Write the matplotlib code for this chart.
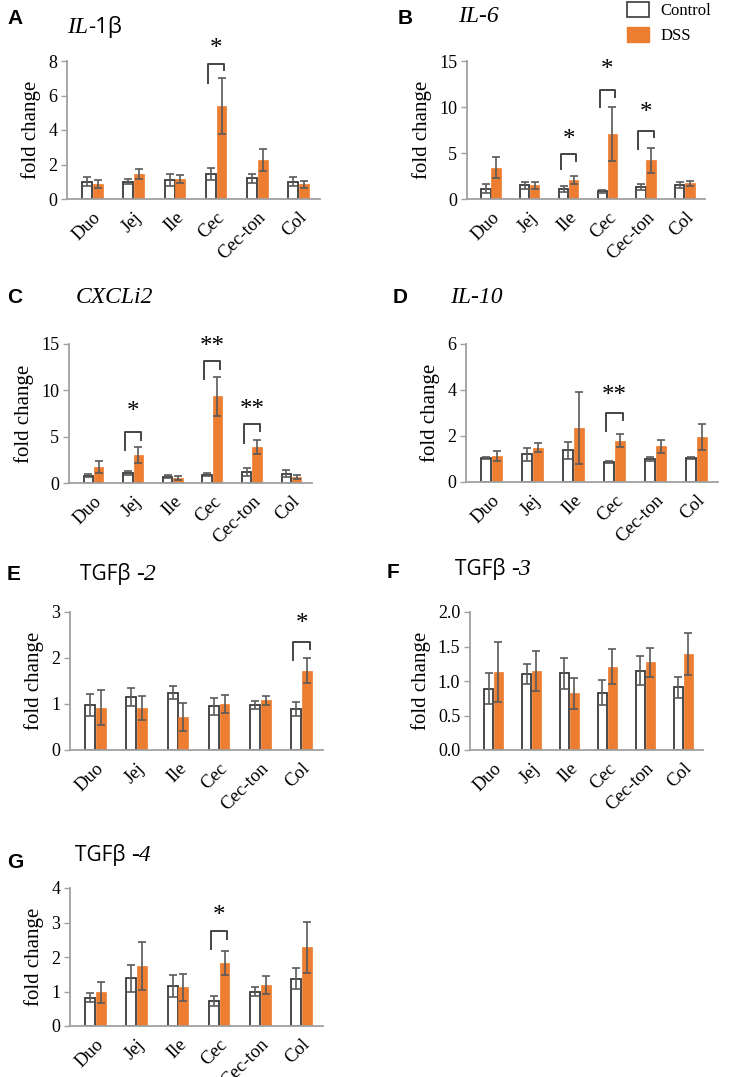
import matplotlib
matplotlib.use("Agg")
import matplotlib.pyplot as plt
from matplotlib.patches import Patch
import numpy as np

W, H = 738, 1077

categories = ["Duo", "Jej", "Ile", "Cec", "Cec-ton", "Col"]

# Panel A: IL-1b
a_ctrl = [1.0, 1.0, 1.1, 1.45, 1.2, 1.0]
a_ctrl_err = [0.25, 0.15, 0.33, 0.33, 0.26, 0.25]
a_dss = [0.88, 1.45, 1.15, 5.4, 2.25, 0.85]
a_dss_err = [0.22, 0.3, 0.22, 1.62, 0.62, 0.22]
a_ticks = [0, 2, 4, 6, 8]
a_sig = [(3, "*", 7.8, 6.75, 7.5, 8.7)]

# Panel B: IL-6
b_ctrl = [1.1, 1.5, 1.1, 0.85, 1.3, 1.5]
b_ctrl_err = [0.5, 0.4, 0.35, 0.15, 0.3, 0.35]
b_dss = [3.4, 1.5, 2.1, 7.1, 4.2, 1.7]
b_dss_err = [1.15, 0.4, 0.45, 2.95, 1.35, 0.3]
b_ticks = [0, 5, 10, 15]
b_sig = [(2, "*", 4.86, 3.26, 4.13, 6.4), (3, "*", 11.9, 9.96, 11.1, 14.0),
         (4, "*", 7.43, 5.43, 6.7, 9.3)]

# Panel C: CXCLi2
c_ctrl = [0.8, 1.05, 0.7, 0.9, 1.2, 1.0]
c_ctrl_err = [0.2, 0.2, 0.15, 0.15, 0.4, 0.35]
c_dss = [1.75, 3.0, 0.55, 9.35, 3.9, 0.65]
c_dss_err = [0.62, 0.86, 0.25, 2.13, 0.77, 0.25]
c_ticks = [0, 5, 10, 15]
c_sig = [(1, "*", 5.48, 3.53, 4.69, 7.7), (3, "**", 13.16, 11.18, 12.3, 14.7),
         (4, "**", 6.35, 4.33, 5.59, 7.9)]

# Panel D: IL-10
d_ctrl = [1.05, 1.2, 1.37, 0.88, 1.0, 1.05]
d_ctrl_err = [0.04, 0.3, 0.39, 0.05, 0.1, 0.04]
d_dss = [1.12, 1.5, 2.35, 1.8, 1.55, 1.95]
d_dss_err = [0.22, 0.2, 1.58, 0.27, 0.28, 0.55]
d_ticks = [0, 2, 4, 6]
d_sig = [(3, "**", 2.99, 2.23, 2.7, 3.74)]

# Panel E: TGFb-2
e_ctrl = [0.98, 1.15, 1.25, 0.95, 0.98, 0.9]
e_ctrl_err = [0.23, 0.19, 0.15, 0.18, 0.08, 0.15]
e_dss = [0.92, 0.92, 0.72, 1.0, 1.08, 1.72]
e_dss_err = [0.38, 0.26, 0.31, 0.2, 0.1, 0.27]
e_ticks = [0, 1, 2, 3]
e_sig = [(5, "*", 2.35, 1.95, 2.2, 2.75)]

# Panel F: TGFb-3
f_ctrl = [0.89, 1.1, 1.11, 0.83, 1.15, 0.91]
f_ctrl_err = [0.22, 0.14, 0.23, 0.18, 0.21, 0.15]
f_dss = [1.13, 1.14, 0.82, 1.21, 1.27, 1.39]
f_dss_err = [0.43, 0.29, 0.23, 0.25, 0.21, 0.31]
f_ticks = [0.0, 0.5, 1.0, 1.5, 2.0]
f_sig = []

# Panel G: TGFb-4
g_ctrl = [0.82, 1.38, 1.15, 0.72, 1.0, 1.37]
g_ctrl_err = [0.13, 0.38, 0.32, 0.15, 0.13, 0.3]
g_dss = [0.98, 1.74, 1.12, 1.82, 1.2, 2.28]
g_dss_err = [0.3, 0.7, 0.4, 0.35, 0.26, 0.74]
g_ticks = [0, 1, 2, 3, 4]
g_sig = [(3, "*", 2.75, 2.23, 2.53, 3.2)]

ORANGE = "#ED7D31"
EDGE = "#3a3a3a"
ERR = "#5a5a5a"
SPINE = "#a0a0a0"
SERIF = ["Liberation Serif", "DejaVu Serif"]
SANS = ["Open Sans", "DejaVu Sans"]

fig = plt.figure(figsize=(W / 100, H / 100), dpi=100)


def rect(l, r, t, b):
    return [l / W, 1 - b / H, (r - l) / W, (b - t) / H]


def panel(box, ctrl, ctrl_err, dss, dss_err, ticks, sig, fmt="{:g}"):
    ax = fig.add_axes(rect(*box))
    x = np.arange(len(categories))
    bw = 0.24
    off = 0.13
    ek = dict(ecolor=ERR, elinewidth=1.2, capsize=3, capthick=1.2)
    ax.bar(x - off, ctrl, bw, yerr=ctrl_err, color="white", edgecolor=EDGE,
           linewidth=1.3, error_kw=ek, zorder=2)
    ax.bar(x + off, dss, bw, yerr=dss_err, color=ORANGE, edgecolor=ORANGE,
           linewidth=0.5, error_kw=ek, zorder=2)
    ax.set_xlim(-0.62, 5.52)
    ax.set_ylim(ticks[0], ticks[-1])
    ax.set_yticks(ticks)
    ax.set_yticklabels([fmt.format(t) for t in ticks], family=SERIF, fontsize=13)
    ax.set_xticks(x)
    ax.set_xticklabels(categories, rotation=45, ha="right", rotation_mode="anchor",
                       family=SERIF, fontsize=13.5)
    ax.tick_params(axis="x", length=0, pad=7)
    ax.tick_params(axis="y", length=4, width=1.0, color=SPINE, pad=3)
    for s in ["top", "right"]:
        ax.spines[s].set_visible(False)
    for s in ["left", "bottom"]:
        ax.spines[s].set_color(SPINE)
        ax.spines[s].set_linewidth(1.3)
    ax.set_ylabel("fold change", family=SERIF, fontsize=15, labelpad=5)
    for (g, lab, top, lb, rb, sy) in sig:
        xl, xr = g - 0.2, g + 0.2
        ax.plot([xl, xl, xr, xr], [lb, top, top, rb], color="#444444", lw=1.4,
                clip_on=False, zorder=3)
        ax.text(g, sy, lab, ha="center", va="center", family=SERIF, fontsize=18,
                clip_on=False)
    return ax


panel((67, 320, 61, 199), a_ctrl, a_ctrl_err, a_dss, a_dss_err, a_ticks, a_sig)
panel((467, 705, 61, 199), b_ctrl, b_ctrl_err, b_dss, b_dss_err, b_ticks, b_sig)
panel((69, 312, 344, 483), c_ctrl, c_ctrl_err, c_dss, c_dss_err, c_ticks, c_sig)
panel((466, 718, 344, 482), d_ctrl, d_ctrl_err, d_dss, d_dss_err, d_ticks, d_sig)
panel((70, 323, 612, 750), e_ctrl, e_ctrl_err, e_dss, e_dss_err, e_ticks, e_sig)
panel((470, 703, 612, 750), f_ctrl, f_ctrl_err, f_dss, f_dss_err, f_ticks, f_sig,
      fmt="{:.1f}")
panel((70, 323, 888, 1026), g_ctrl, g_ctrl_err, g_dss, g_dss_err, g_ticks, g_sig)

fig.canvas.draw()
renderer = fig.canvas.get_renderer()


def pieces(x_px, base_px, parts):
    x = x_px / W
    y = 1 - base_px / H
    for txt, fam, style, size in parts:
        t = fig.text(x, y, txt, family=fam, style=style, fontsize=size,
                     ha="left", va="baseline")
        bb = t.get_window_extent(renderer=renderer)
        x += bb.width / W


# panel letters
letters = [("A", 7, 24), ("B", 398, 24), ("C", 7, 303), ("D", 393, 303),
           ("E", 7, 580), ("F", 387, 578), ("G", 7, 868)]
for lab, lx, ly in letters:
    fig.text(lx / W, 1 - ly / H, lab, family=["Liberation Sans"], weight="bold",
             fontsize=15, ha="left", va="baseline")

pieces(67, 33, [("IL", SERIF, "italic", 17), ("-1β", SANS, "normal", 16)])
pieces(458, 22, [("IL-6", SERIF, "italic", 17)])
pieces(76, 303, [("CXCLi2", SERIF, "italic", 17)])
pieces(450, 303, [("IL-10", SERIF, "italic", 17)])
pieces(80, 580, [("TGFβ ", SANS, "normal", 15), ("-2", SERIF, "italic", 17)])
pieces(455, 575, [("TGFβ ", SANS, "normal", 15), ("-3", SERIF, "italic", 17)])
pieces(75, 861, [("TGFβ ", SANS, "normal", 15), ("-4", SERIF, "italic", 17)])

handles = [Patch(facecolor="white", edgecolor=EDGE, linewidth=1.2, label="Control"),
           Patch(facecolor=ORANGE, edgecolor=ORANGE, label="DSS")]
fig.legend(handles=handles, loc="upper left", bbox_to_anchor=(612 / W, 1 + 13 / H),
           frameon=False, prop={"family": SERIF, "size": 12},
           handlelength=1.3, handleheight=1.0, handletextpad=0.7, labelspacing=0.45)

fig.savefig("out.png", dpi=100)
